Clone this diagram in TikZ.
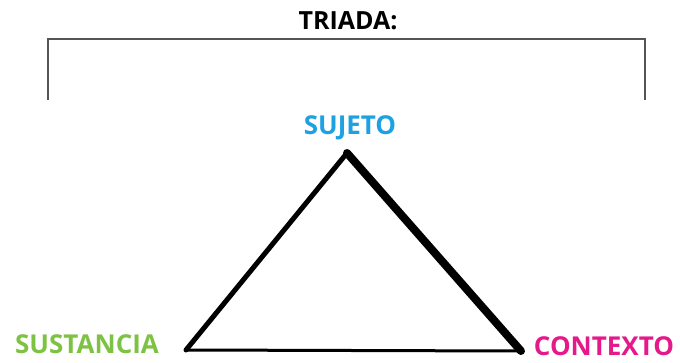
\documentclass[tikz,border=0pt]{standalone}
\usepackage{fontspec}
\setmainfont{Open Sans}
\definecolor{cblue}{HTML}{1DA1E2}
\definecolor{cgreen}{HTML}{7DC243}
\definecolor{cmag}{HTML}{E5198A}
\definecolor{cgray}{HTML}{555555}
\begin{document}
\begin{tikzpicture}[x=1pt,y=-1pt,
  lbl/.style={font=\fontsize{26}{28}\selectfont\bfseries, inner sep=0pt, anchor=base},
  edge/.style={draw=black, line cap=round, line join=round}]
\useasboundingbox (0,0) rectangle (680,362);
\node[lbl, text=black, font=\fontsize{25}{27}\selectfont\bfseries] (title) at (348,29) {TRIADA:};
\coordinate (bl) at (48,100);
\coordinate (tl) at (48,39);
\coordinate (tr) at (645,39);
\coordinate (br) at (645,100);
\draw[cgray, line width=1.5pt] (bl) -- (tl) -- (tr) -- (br);
\node[lbl, text=cblue] (suj) at (350,134) {SUJETO};
\node[lbl, text=cgreen] (sus) at (87,353) {SUSTANCIA};
\node[lbl, text=cmag] (con) at (604,355) {CONTEXTO};
\coordinate (A) at (347,153);
\coordinate (B) at (186,350);
\coordinate (C) at (521,351);
\draw[edge, line width=5pt] (B) -- (A);
\draw[edge, line width=8pt] (A) -- (C);
\draw[edge, line width=3pt] (B) -- (C);
\end{tikzpicture}
\end{document}
